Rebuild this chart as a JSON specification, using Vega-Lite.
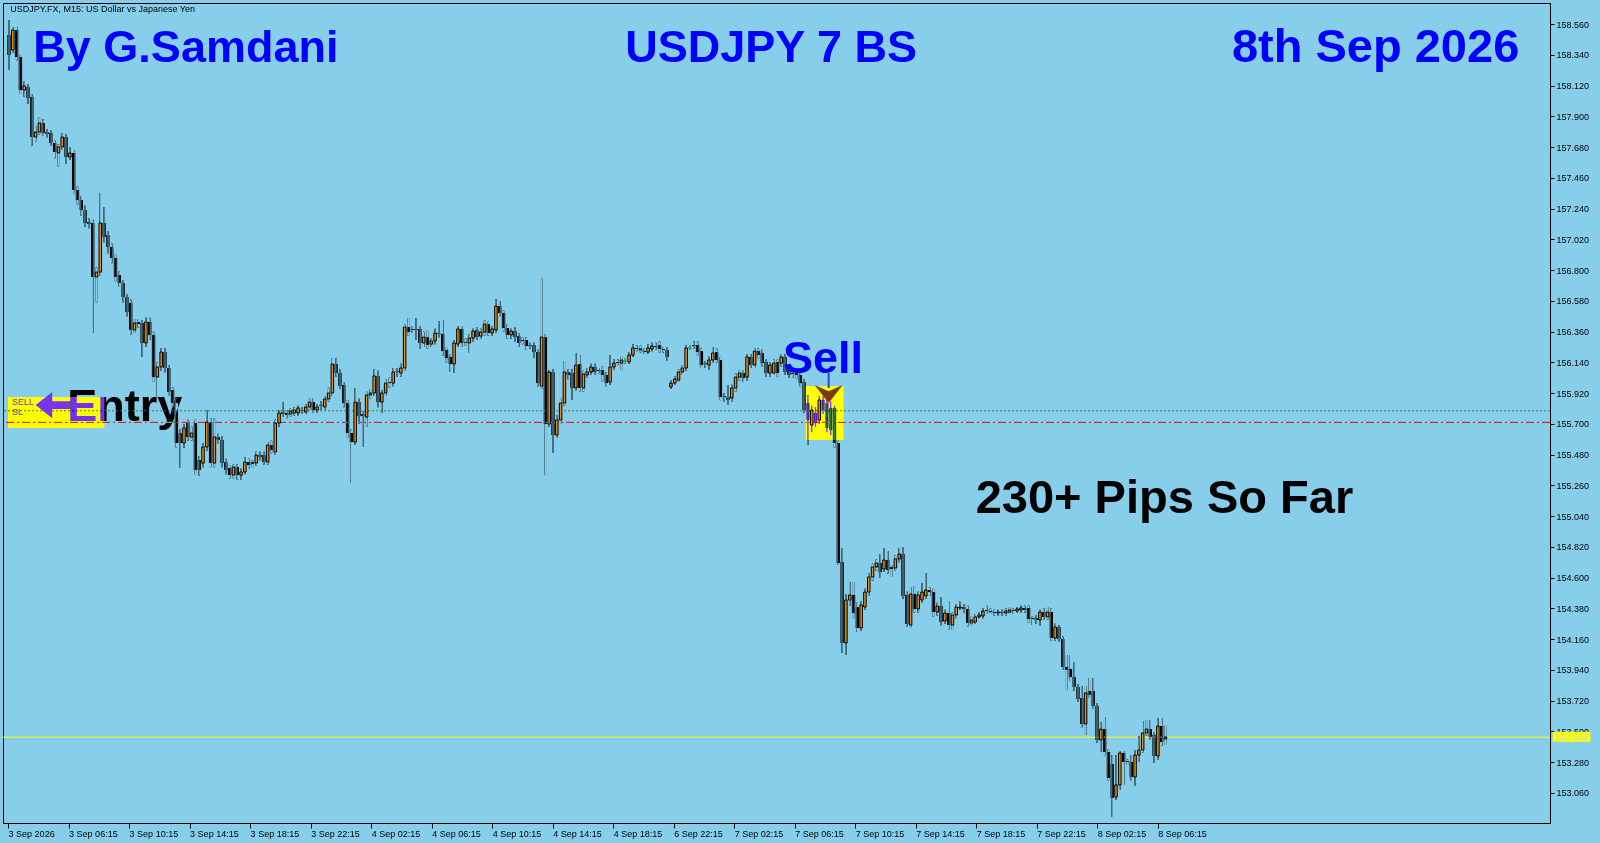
{
"$schema":"https://vega.github.io/schema/vega-lite/v6.json",
"width":1547,"height":820,
"autosize":{"type":"none"},
"padding":{"left":3,"top":3,"right":50,"bottom":20},
"background":"#87CEEB",
"config":{"view":{"stroke":"#000","strokeWidth":1},"axis":{"grid":false,"labelFont":"Liberation Sans","labelFontSize":9,"labelColor":"#000","tickColor":"#000","domainColor":"#000","titleColor":"transparent","titleFontSize":1}},
"datasets":{"bars":[
{"i":0,"o":158.482,"h":158.589,"l":158.231,"c":158.339},
{"i":1,"o":158.374,"h":158.540,"l":158.355,"c":158.517},
{"i":2,"o":158.517,"h":158.540,"l":158.300,"c":158.324},
{"i":3,"o":158.324,"h":158.340,"l":158.060,"c":158.088},
{"i":4,"o":158.088,"h":158.150,"l":158.040,"c":158.117},
{"i":5,"o":158.110,"h":158.130,"l":157.990,"c":158.031},
{"i":6,"o":158.038,"h":158.060,"l":157.690,"c":157.752},
{"i":7,"o":157.752,"h":157.830,"l":157.720,"c":157.788},
{"i":8,"o":157.788,"h":157.890,"l":157.770,"c":157.852},
{"i":9,"o":157.852,"h":157.880,"l":157.760,"c":157.781},
{"i":10,"o":157.788,"h":157.810,"l":157.750,"c":157.774},
{"i":11,"o":157.781,"h":157.800,"l":157.690,"c":157.709},
{"i":12,"o":157.709,"h":157.730,"l":157.600,"c":157.645},
{"i":13,"o":157.638,"h":157.700,"l":157.540,"c":157.681},
{"i":14,"o":157.681,"h":157.780,"l":157.660,"c":157.752},
{"i":15,"o":157.752,"h":157.770,"l":157.560,"c":157.609},
{"i":16,"o":157.609,"h":157.680,"l":157.590,"c":157.638},
{"i":17,"o":157.638,"h":157.660,"l":157.350,"c":157.373},
{"i":18,"o":157.373,"h":157.400,"l":157.270,"c":157.301},
{"i":19,"o":157.301,"h":157.330,"l":157.190,"c":157.230},
{"i":20,"o":157.230,"h":157.260,"l":157.110,"c":157.137},
{"i":21,"o":157.144,"h":157.170,"l":157.100,"c":157.130},
{"i":22,"o":157.137,"h":157.160,"l":156.350,"c":156.751},
{"i":23,"o":156.751,"h":156.820,"l":156.570,"c":156.786},
{"i":24,"o":156.786,"h":157.351,"l":156.760,"c":157.137},
{"i":25,"o":157.137,"h":157.251,"l":157.000,"c":157.037},
{"i":26,"o":157.051,"h":157.080,"l":156.920,"c":156.965},
{"i":27,"o":156.965,"h":156.990,"l":156.850,"c":156.887},
{"i":28,"o":156.887,"h":156.910,"l":156.720,"c":156.751},
{"i":29,"o":156.765,"h":156.790,"l":156.680,"c":156.708},
{"i":30,"o":156.708,"h":156.730,"l":156.570,"c":156.608},
{"i":31,"o":156.608,"h":156.630,"l":156.470,"c":156.500},
{"i":32,"o":156.565,"h":156.590,"l":156.340,"c":156.372},
{"i":33,"o":156.372,"h":156.450,"l":156.350,"c":156.422},
{"i":34,"o":156.429,"h":156.450,"l":156.390,"c":156.414},
{"i":35,"o":156.422,"h":156.440,"l":156.180,"c":156.279},
{"i":36,"o":156.279,"h":156.460,"l":156.250,"c":156.429},
{"i":37,"o":156.429,"h":156.460,"l":156.300,"c":156.336},
{"i":38,"o":156.336,"h":156.360,"l":156.000,"c":156.035},
{"i":39,"o":156.035,"h":156.140,"l":155.885,"c":156.107},
{"i":40,"o":156.107,"h":156.240,"l":156.080,"c":156.214},
{"i":41,"o":156.214,"h":156.240,"l":156.070,"c":156.100},
{"i":42,"o":156.100,"h":156.120,"l":155.900,"c":155.928},
{"i":43,"o":155.942,"h":155.960,"l":155.820,"c":155.849},
{"i":44,"o":155.849,"h":155.880,"l":155.530,"c":155.563},
{"i":45,"o":155.635,"h":155.660,"l":155.384,"c":155.563},
{"i":46,"o":155.563,"h":155.700,"l":155.530,"c":155.671},
{"i":47,"o":155.706,"h":155.730,"l":155.580,"c":155.606},
{"i":48,"o":155.606,"h":155.680,"l":155.580,"c":155.635},
{"i":49,"o":155.706,"h":155.730,"l":155.340,"c":155.370},
{"i":50,"o":155.442,"h":155.470,"l":155.330,"c":155.370},
{"i":51,"o":155.420,"h":155.560,"l":155.390,"c":155.535},
{"i":52,"o":155.535,"h":155.799,"l":155.510,"c":155.713},
{"i":53,"o":155.713,"h":155.740,"l":155.390,"c":155.420},
{"i":54,"o":155.420,"h":155.740,"l":155.390,"c":155.606},
{"i":55,"o":155.606,"h":155.630,"l":155.560,"c":155.585},
{"i":56,"o":155.585,"h":155.610,"l":155.390,"c":155.420},
{"i":57,"o":155.427,"h":155.450,"l":155.340,"c":155.370},
{"i":58,"o":155.384,"h":155.400,"l":155.310,"c":155.334},
{"i":59,"o":155.334,"h":155.410,"l":155.310,"c":155.392},
{"i":60,"o":155.392,"h":155.410,"l":155.300,"c":155.334},
{"i":61,"o":155.334,"h":155.380,"l":155.299,"c":155.356},
{"i":62,"o":155.356,"h":155.460,"l":155.340,"c":155.427},
{"i":63,"o":155.427,"h":155.450,"l":155.380,"c":155.406},
{"i":64,"o":155.427,"h":155.440,"l":155.390,"c":155.413},
{"i":65,"o":155.420,"h":155.500,"l":155.400,"c":155.477},
{"i":66,"o":155.477,"h":155.500,"l":155.440,"c":155.463},
{"i":67,"o":155.477,"h":155.500,"l":155.410,"c":155.427},
{"i":68,"o":155.427,"h":155.570,"l":155.410,"c":155.549},
{"i":69,"o":155.549,"h":155.580,"l":155.490,"c":155.513},
{"i":70,"o":155.499,"h":155.730,"l":155.480,"c":155.706},
{"i":71,"o":155.706,"h":155.800,"l":155.680,"c":155.778},
{"i":72,"o":155.785,"h":155.856,"l":155.750,"c":155.771},
{"i":73,"o":155.778,"h":155.800,"l":155.740,"c":155.764},
{"i":74,"o":155.771,"h":155.810,"l":155.750,"c":155.792},
{"i":75,"o":155.778,"h":155.820,"l":155.760,"c":155.799},
{"i":76,"o":155.778,"h":155.830,"l":155.760,"c":155.814},
{"i":77,"o":155.799,"h":155.820,"l":155.770,"c":155.792},
{"i":78,"o":155.785,"h":155.840,"l":155.770,"c":155.821},
{"i":79,"o":155.821,"h":155.880,"l":155.800,"c":155.856},
{"i":80,"o":155.856,"h":155.885,"l":155.780,"c":155.799},
{"i":81,"o":155.799,"h":155.840,"l":155.780,"c":155.821},
{"i":82,"o":155.835,"h":155.860,"l":155.800,"c":155.828},
{"i":83,"o":155.821,"h":155.900,"l":155.800,"c":155.878},
{"i":84,"o":155.878,"h":155.960,"l":155.860,"c":155.921},
{"i":85,"o":155.921,"h":156.171,"l":155.900,"c":156.128},
{"i":86,"o":156.128,"h":156.170,"l":156.040,"c":156.064},
{"i":87,"o":156.064,"h":156.090,"l":155.950,"c":155.971},
{"i":88,"o":155.978,"h":156.000,"l":155.820,"c":155.849},
{"i":89,"o":155.849,"h":155.870,"l":155.600,"c":155.635},
{"i":90,"o":155.635,"h":155.660,"l":155.277,"c":155.570},
{"i":91,"o":155.570,"h":155.957,"l":155.550,"c":155.856},
{"i":92,"o":155.856,"h":155.880,"l":155.700,"c":155.756},
{"i":93,"o":155.771,"h":155.790,"l":155.535,"c":155.756},
{"i":94,"o":155.749,"h":155.930,"l":155.680,"c":155.907},
{"i":95,"o":155.907,"h":155.950,"l":155.880,"c":155.921},
{"i":96,"o":155.921,"h":156.090,"l":155.900,"c":156.043},
{"i":97,"o":156.043,"h":156.080,"l":155.820,"c":155.856},
{"i":98,"o":155.856,"h":155.940,"l":155.778,"c":155.921},
{"i":99,"o":155.921,"h":156.020,"l":155.900,"c":155.992},
{"i":100,"o":155.999,"h":156.030,"l":155.960,"c":155.992},
{"i":101,"o":155.992,"h":156.100,"l":155.970,"c":156.071},
{"i":102,"o":156.078,"h":156.100,"l":156.040,"c":156.071},
{"i":103,"o":156.064,"h":156.130,"l":156.040,"c":156.100},
{"i":104,"o":156.100,"h":156.410,"l":156.080,"c":156.393},
{"i":105,"o":156.393,"h":156.457,"l":156.330,"c":156.357},
{"i":106,"o":156.379,"h":156.400,"l":156.350,"c":156.372},
{"i":107,"o":156.379,"h":156.457,"l":156.300,"c":156.372},
{"i":108,"o":156.379,"h":156.400,"l":156.240,"c":156.279},
{"i":109,"o":156.279,"h":156.360,"l":156.250,"c":156.321},
{"i":110,"o":156.321,"h":156.372,"l":156.240,"c":156.264},
{"i":111,"o":156.271,"h":156.310,"l":156.250,"c":156.293},
{"i":112,"o":156.293,"h":156.380,"l":156.270,"c":156.350},
{"i":113,"o":156.350,"h":156.436,"l":156.320,"c":156.343},
{"i":114,"o":156.343,"h":156.443,"l":156.190,"c":156.221},
{"i":115,"o":156.229,"h":156.250,"l":156.140,"c":156.171},
{"i":116,"o":156.179,"h":156.200,"l":156.071,"c":156.128},
{"i":117,"o":156.128,"h":156.300,"l":156.064,"c":156.279},
{"i":118,"o":156.271,"h":156.400,"l":156.250,"c":156.379},
{"i":119,"o":156.379,"h":156.400,"l":156.250,"c":156.279},
{"i":120,"o":156.286,"h":156.310,"l":156.260,"c":156.279},
{"i":121,"o":156.279,"h":156.340,"l":156.207,"c":156.314},
{"i":122,"o":156.314,"h":156.380,"l":156.290,"c":156.364},
{"i":123,"o":156.372,"h":156.390,"l":156.300,"c":156.321},
{"i":124,"o":156.328,"h":156.380,"l":156.310,"c":156.357},
{"i":125,"o":156.357,"h":156.440,"l":156.330,"c":156.414},
{"i":126,"o":156.414,"h":156.430,"l":156.330,"c":156.350},
{"i":127,"o":156.350,"h":156.400,"l":156.330,"c":156.379},
{"i":128,"o":156.372,"h":156.593,"l":156.350,"c":156.543},
{"i":129,"o":156.543,"h":156.580,"l":156.470,"c":156.493},
{"i":130,"o":156.493,"h":156.510,"l":156.360,"c":156.386},
{"i":131,"o":156.386,"h":156.410,"l":156.310,"c":156.336},
{"i":132,"o":156.336,"h":156.380,"l":156.310,"c":156.364},
{"i":133,"o":156.364,"h":156.390,"l":156.290,"c":156.321},
{"i":134,"o":156.328,"h":156.350,"l":156.250,"c":156.279},
{"i":135,"o":156.300,"h":156.320,"l":156.270,"c":156.293},
{"i":136,"o":156.300,"h":156.320,"l":156.230,"c":156.257},
{"i":137,"o":156.264,"h":156.280,"l":156.240,"c":156.257},
{"i":138,"o":156.264,"h":156.280,"l":156.171,"c":156.214},
{"i":139,"o":156.214,"h":156.230,"l":155.970,"c":155.992},
{"i":140,"o":155.971,"h":156.743,"l":155.950,"c":156.321},
{"i":141,"o":156.321,"h":156.340,"l":155.334,"c":155.699},
{"i":142,"o":155.699,"h":156.085,"l":155.680,"c":156.071},
{"i":143,"o":156.071,"h":156.090,"l":155.492,"c":155.620},
{"i":144,"o":155.620,"h":155.760,"l":155.600,"c":155.728},
{"i":145,"o":155.728,"h":155.880,"l":155.700,"c":155.849},
{"i":146,"o":155.849,"h":156.150,"l":155.830,"c":156.071},
{"i":147,"o":156.071,"h":156.090,"l":156.020,"c":156.050},
{"i":148,"o":156.064,"h":156.090,"l":155.871,"c":155.957},
{"i":149,"o":155.957,"h":156.207,"l":155.940,"c":156.121},
{"i":150,"o":156.128,"h":156.193,"l":155.930,"c":155.957},
{"i":151,"o":155.957,"h":156.080,"l":155.930,"c":156.057},
{"i":152,"o":156.050,"h":156.100,"l":156.030,"c":156.071},
{"i":153,"o":156.071,"h":156.130,"l":156.050,"c":156.107},
{"i":154,"o":156.107,"h":156.130,"l":156.050,"c":156.071},
{"i":155,"o":156.085,"h":156.100,"l":156.060,"c":156.078},
{"i":156,"o":156.085,"h":156.110,"l":156.000,"c":156.050},
{"i":157,"o":156.050,"h":156.070,"l":155.970,"c":155.992},
{"i":158,"o":155.999,"h":156.193,"l":155.980,"c":156.107},
{"i":159,"o":156.107,"h":156.160,"l":156.090,"c":156.135},
{"i":160,"o":156.143,"h":156.160,"l":156.120,"c":156.135},
{"i":161,"o":156.135,"h":156.180,"l":156.085,"c":156.157},
{"i":162,"o":156.150,"h":156.170,"l":156.130,"c":156.150},
{"i":163,"o":156.143,"h":156.210,"l":156.130,"c":156.193},
{"i":164,"o":156.193,"h":156.270,"l":156.180,"c":156.243},
{"i":165,"o":156.243,"h":156.260,"l":156.220,"c":156.236},
{"i":166,"o":156.229,"h":156.260,"l":156.210,"c":156.236},
{"i":167,"o":156.221,"h":156.240,"l":156.200,"c":156.214},
{"i":168,"o":156.214,"h":156.270,"l":156.200,"c":156.243},
{"i":169,"o":156.236,"h":156.280,"l":156.220,"c":156.257},
{"i":170,"o":156.257,"h":156.280,"l":156.230,"c":156.250},
{"i":171,"o":156.264,"h":156.290,"l":156.210,"c":156.236},
{"i":172,"o":156.236,"h":156.250,"l":156.210,"c":156.229},
{"i":173,"o":156.229,"h":156.250,"l":156.150,"c":156.179},
{"i":174,"o":155.964,"h":156.010,"l":155.950,"c":155.992},
{"i":175,"o":155.992,"h":156.040,"l":155.980,"c":156.021},
{"i":176,"o":156.014,"h":156.090,"l":156.000,"c":156.071},
{"i":177,"o":156.071,"h":156.120,"l":156.050,"c":156.100},
{"i":178,"o":156.100,"h":156.260,"l":156.080,"c":156.243},
{"i":179,"o":156.243,"h":156.260,"l":156.230,"c":156.243},
{"i":180,"o":156.264,"h":156.290,"l":156.240,"c":156.257},
{"i":181,"o":156.264,"h":156.290,"l":156.190,"c":156.214},
{"i":182,"o":156.221,"h":156.240,"l":156.100,"c":156.121},
{"i":183,"o":156.135,"h":156.150,"l":156.100,"c":156.128},
{"i":184,"o":156.121,"h":156.180,"l":156.085,"c":156.157},
{"i":185,"o":156.157,"h":156.250,"l":156.140,"c":156.207},
{"i":186,"o":156.214,"h":156.240,"l":156.140,"c":156.157},
{"i":187,"o":156.157,"h":156.180,"l":155.870,"c":155.892},
{"i":188,"o":155.899,"h":155.920,"l":155.860,"c":155.892},
{"i":189,"o":155.892,"h":155.978,"l":155.835,"c":155.871},
{"i":190,"o":155.885,"h":155.980,"l":155.860,"c":155.957},
{"i":191,"o":155.957,"h":156.060,"l":155.930,"c":156.035},
{"i":192,"o":156.035,"h":156.080,"l":156.010,"c":156.064},
{"i":193,"o":156.064,"h":156.080,"l":156.000,"c":156.028},
{"i":194,"o":156.035,"h":156.200,"l":156.010,"c":156.179},
{"i":195,"o":156.179,"h":156.200,"l":156.100,"c":156.121},
{"i":196,"o":156.121,"h":156.240,"l":156.100,"c":156.221},
{"i":197,"o":156.221,"h":156.240,"l":156.170,"c":156.193},
{"i":198,"o":156.207,"h":156.230,"l":156.110,"c":156.135},
{"i":199,"o":156.143,"h":156.160,"l":156.040,"c":156.064},
{"i":200,"o":156.064,"h":156.140,"l":156.040,"c":156.121},
{"i":201,"o":156.064,"h":156.160,"l":156.050,"c":156.135},
{"i":202,"o":156.143,"h":156.160,"l":156.040,"c":156.064},
{"i":203,"o":156.135,"h":156.200,"l":156.110,"c":156.179},
{"i":204,"o":156.179,"h":156.200,"l":156.050,"c":156.071},
{"i":205,"o":156.085,"h":156.100,"l":156.030,"c":156.050},
{"i":206,"o":156.064,"h":156.080,"l":156.030,"c":156.057},
{"i":207,"o":156.064,"h":156.080,"l":156.020,"c":156.050},
{"i":208,"o":156.050,"h":156.070,"l":155.970,"c":155.992},
{"i":209,"o":155.999,"h":156.020,"l":155.780,"c":155.799},
{"i":210,"o":155.849,"h":155.907,"l":155.549,"c":155.728},
{"i":211,"o":155.692,"h":155.830,"l":155.640,"c":155.799},
{"i":212,"o":155.778,"h":155.820,"l":155.680,"c":155.706},
{"i":213,"o":155.728,"h":155.900,"l":155.700,"c":155.871},
{"i":214,"o":155.871,"h":155.900,"l":155.770,"c":155.799},
{"i":215,"o":155.849,"h":155.880,"l":155.640,"c":155.671},
{"i":216,"o":155.814,"h":155.860,"l":155.620,"c":155.656},
{"i":217,"o":155.814,"h":155.830,"l":155.530,"c":155.563},
{"i":218,"o":155.563,"h":155.580,"l":154.690,"c":154.705},
{"i":219,"o":154.712,"h":154.812,"l":154.061,"c":154.133},
{"i":220,"o":154.133,"h":154.480,"l":154.047,"c":154.440},
{"i":221,"o":154.440,"h":154.569,"l":154.400,"c":154.476},
{"i":222,"o":154.476,"h":154.569,"l":154.310,"c":154.347},
{"i":223,"o":154.390,"h":154.420,"l":154.211,"c":154.240},
{"i":224,"o":154.240,"h":154.430,"l":154.220,"c":154.404},
{"i":225,"o":154.390,"h":154.520,"l":154.370,"c":154.497},
{"i":226,"o":154.497,"h":154.630,"l":154.470,"c":154.605},
{"i":227,"o":154.605,"h":154.700,"l":154.580,"c":154.676},
{"i":228,"o":154.676,"h":154.730,"l":154.650,"c":154.705},
{"i":229,"o":154.705,"h":154.770,"l":154.598,"c":154.640},
{"i":230,"o":154.662,"h":154.812,"l":154.640,"c":154.726},
{"i":231,"o":154.726,"h":154.790,"l":154.630,"c":154.655},
{"i":232,"o":154.676,"h":154.690,"l":154.605,"c":154.662},
{"i":233,"o":154.669,"h":154.760,"l":154.650,"c":154.734},
{"i":234,"o":154.734,"h":154.812,"l":154.710,"c":154.769},
{"i":235,"o":154.769,"h":154.819,"l":154.450,"c":154.469},
{"i":236,"o":154.476,"h":154.500,"l":154.250,"c":154.269},
{"i":237,"o":154.261,"h":154.533,"l":154.240,"c":154.483},
{"i":238,"o":154.483,"h":154.540,"l":154.350,"c":154.376},
{"i":239,"o":154.376,"h":154.500,"l":154.350,"c":154.476},
{"i":240,"o":154.440,"h":154.562,"l":154.420,"c":154.497},
{"i":241,"o":154.469,"h":154.633,"l":154.450,"c":154.512},
{"i":242,"o":154.512,"h":154.530,"l":154.470,"c":154.497},
{"i":243,"o":154.497,"h":154.520,"l":154.320,"c":154.354},
{"i":244,"o":154.354,"h":154.420,"l":154.330,"c":154.397},
{"i":245,"o":154.397,"h":154.462,"l":154.260,"c":154.283},
{"i":246,"o":154.290,"h":154.370,"l":154.270,"c":154.347},
{"i":247,"o":154.347,"h":154.433,"l":154.230,"c":154.261},
{"i":248,"o":154.261,"h":154.350,"l":154.226,"c":154.333},
{"i":249,"o":154.333,"h":154.410,"l":154.310,"c":154.390},
{"i":250,"o":154.383,"h":154.433,"l":154.370,"c":154.390},
{"i":251,"o":154.390,"h":154.410,"l":154.350,"c":154.376},
{"i":252,"o":154.376,"h":154.400,"l":154.250,"c":154.276},
{"i":253,"o":154.276,"h":154.320,"l":154.260,"c":154.297},
{"i":254,"o":154.283,"h":154.340,"l":154.270,"c":154.319},
{"i":255,"o":154.319,"h":154.350,"l":154.310,"c":154.333},
{"i":256,"o":154.326,"h":154.380,"l":154.310,"c":154.362},
{"i":257,"o":154.369,"h":154.400,"l":154.345,"c":154.362},
{"i":258,"o":154.362,"h":154.380,"l":154.340,"c":154.354},
{"i":259,"o":154.354,"h":154.370,"l":154.330,"c":154.347},
{"i":260,"o":154.347,"h":154.370,"l":154.330,"c":154.354},
{"i":261,"o":154.354,"h":154.370,"l":154.330,"c":154.347},
{"i":262,"o":154.347,"h":154.380,"l":154.330,"c":154.362},
{"i":263,"o":154.354,"h":154.390,"l":154.340,"c":154.369},
{"i":264,"o":154.369,"h":154.380,"l":154.340,"c":154.362},
{"i":265,"o":154.362,"h":154.390,"l":154.350,"c":154.376},
{"i":266,"o":154.369,"h":154.400,"l":154.350,"c":154.383},
{"i":267,"o":154.383,"h":154.400,"l":154.350,"c":154.369},
{"i":268,"o":154.383,"h":154.400,"l":154.280,"c":154.304},
{"i":269,"o":154.312,"h":154.320,"l":154.261,"c":154.304},
{"i":270,"o":154.312,"h":154.330,"l":154.270,"c":154.297},
{"i":271,"o":154.297,"h":154.370,"l":154.254,"c":154.354},
{"i":272,"o":154.354,"h":154.380,"l":154.300,"c":154.319},
{"i":273,"o":154.319,"h":154.390,"l":154.300,"c":154.354},
{"i":274,"o":154.354,"h":154.380,"l":154.150,"c":154.168},
{"i":275,"o":154.168,"h":154.270,"l":154.150,"c":154.247},
{"i":276,"o":154.247,"h":154.260,"l":154.140,"c":154.161},
{"i":277,"o":154.161,"h":154.180,"l":153.940,"c":153.961},
{"i":278,"o":153.961,"h":154.047,"l":153.796,"c":153.941},
{"i":279,"o":153.947,"h":154.047,"l":153.860,"c":153.889},
{"i":280,"o":153.889,"h":153.996,"l":153.790,"c":153.818},
{"i":281,"o":153.818,"h":153.840,"l":153.710,"c":153.732},
{"i":282,"o":153.739,"h":153.825,"l":153.530,"c":153.553},
{"i":283,"o":153.553,"h":153.825,"l":153.475,"c":153.775},
{"i":284,"o":153.789,"h":153.882,"l":153.740,"c":153.761},
{"i":285,"o":153.789,"h":153.882,"l":153.660,"c":153.682},
{"i":286,"o":153.682,"h":153.700,"l":153.420,"c":153.439},
{"i":287,"o":153.439,"h":153.568,"l":153.353,"c":153.517},
{"i":288,"o":153.517,"h":153.603,"l":153.330,"c":153.353},
{"i":289,"o":153.353,"h":153.370,"l":153.150,"c":153.167},
{"i":290,"o":153.267,"h":153.331,"l":152.888,"c":153.024},
{"i":291,"o":153.031,"h":153.331,"l":153.010,"c":153.117},
{"i":292,"o":153.117,"h":153.360,"l":153.081,"c":153.346},
{"i":293,"o":153.346,"h":153.360,"l":153.117,"c":153.281},
{"i":294,"o":153.288,"h":153.300,"l":153.260,"c":153.281},
{"i":295,"o":153.281,"h":153.331,"l":153.150,"c":153.174},
{"i":296,"o":153.174,"h":153.367,"l":153.110,"c":153.331},
{"i":297,"o":153.331,"h":153.467,"l":153.281,"c":153.367},
{"i":298,"o":153.367,"h":153.575,"l":153.350,"c":153.489},
{"i":299,"o":153.489,"h":153.582,"l":153.470,"c":153.517},
{"i":300,"o":153.517,"h":153.582,"l":153.440,"c":153.460},
{"i":301,"o":153.475,"h":153.490,"l":153.274,"c":153.324},
{"i":302,"o":153.324,"h":153.596,"l":153.300,"c":153.539},
{"i":303,"o":153.539,"h":153.596,"l":153.400,"c":153.424},
{"i":304,"o":153.446,"h":153.546,"l":153.403,"c":153.460}
]},
"layer":[
{"data":{"name":"bars"},"mark":{"type":"rule","strokeWidth":1.3,"blend":"difference"},
 "encoding":{"x":{"field":"i","type":"quantitative","scale":{"domain":[-0.26,403.76],"nice":false,"zero":false},
   "axis":{"orient":"bottom","title":null,"values":[-0.235,15.67,31.575,47.48,63.385,79.29,95.195,111.1,127.005,142.91,158.815,174.72,190.625,206.53,222.435,238.34,254.245,270.15,286.055,301.96],"tickCount":40,
   "labelExpr":"['3 Sep 2026','3 Sep 06:15','3 Sep 10:15','3 Sep 14:15','3 Sep 18:15','3 Sep 22:15','4 Sep 02:15','4 Sep 06:15','4 Sep 10:15','4 Sep 14:15','4 Sep 18:15','6 Sep 22:15','7 Sep 02:15','7 Sep 06:15','7 Sep 10:15','7 Sep 14:15','7 Sep 18:15','7 Sep 22:15','8 Sep 02:15','8 Sep 06:15'][round((datum.value+0.235)/15.905)]",
   "labelAlign":"left","labelBaseline":"top","labelPadding":1,"tickSize":5,"labelOverlap":false,"labelFlush":false,"labelBound":false}},
  "y":{"field":"l","type":"quantitative","scale":{"domain":[152.845,158.711],"nice":false,"zero":false},
   "axis":{"orient":"right","title":null,"values":[153.06,153.28,153.5,153.72,153.94,154.16,154.38,154.6,154.82,155.04,155.26,155.48,155.7,155.92,156.14,156.36,156.58,156.8,157.02,157.24,157.46,157.68,157.9,158.12,158.34,158.56],"tickCount":40,"format":".3f","tickSize":4,"labelPadding":2,"labelOverlap":false,"labelFlush":false,"labelBaseline":"middle"}},
  "y2":{"field":"h"},
  "color":{"condition":{"test":"datum.o == datum.c","value":"#872EEB"},"value":"#87CEEB"}}},
{"data":{"values":[{"i":-0.26,"i2":25.07,"p":155.892,"p2":155.671},{"i":209.45,"i2":219.38,"p":155.971,"p2":155.585},{"i":405.8,"i2":415.7,"p":153.498,"p2":153.427}]},
 "mark":{"type":"rect","color":"#FFFF00"},
 "encoding":{"x":{"field":"i","type":"quantitative","scale":{"domain":[-0.26,403.76],"nice":false,"zero":false}},"x2":{"field":"i2"},
 "y":{"field":"p","type":"quantitative","scale":{"domain":[152.845,158.711],"nice":false,"zero":false}},"y2":{"field":"p2"}}},
{"data":{"values":[{"p":155.794}]},"mark":{"type":"rule","color":"#2E8B3E","strokeDash":[2,2],"strokeWidth":1},
 "encoding":{"y":{"field":"p","type":"quantitative","scale":{"domain":[152.845,158.711],"nice":false,"zero":false}}}},
{"data":{"values":[{"p":155.711}]},"mark":{"type":"rule","color":"#FF0000","strokeDash":[8,3,2,3],"strokeWidth":1},
 "encoding":{"y":{"field":"p","type":"quantitative","scale":{"domain":[152.845,158.711],"nice":false,"zero":false}}}},
{"data":{"values":[{"p":153.459}]},"mark":{"type":"rule","color":"#FFFF00","strokeWidth":1},
 "encoding":{"y":{"field":"p","type":"quantitative","scale":{"domain":[152.845,158.711],"nice":false,"zero":false}}}},
{"data":{"name":"bars"},"mark":{"type":"rule","strokeWidth":1.3,"blend":"difference"},
 "encoding":{"x":{"field":"i","type":"quantitative","scale":{"domain":[-0.26,403.76],"nice":false,"zero":false}},
  "y":{"field":"l","type":"quantitative","scale":{"domain":[152.845,158.711],"nice":false,"zero":false}},"y2":{"field":"h"},
  "color":{"condition":{"test":"datum.o == datum.c","value":"#872EEB"},"value":"#87CEEB"}}},
{"data":{"name":"bars"},"transform":[{"filter":"datum.c < datum.o"}],"mark":{"type":"bar","width":3.4,"color":"#87CEEB","blend":"difference"},
 "encoding":{"x":{"field":"i","type":"quantitative","scale":{"domain":[-0.26,403.76],"nice":false,"zero":false}},
  "y":{"field":"o","type":"quantitative","scale":{"domain":[152.845,158.711],"nice":false,"zero":false}},"y2":{"field":"c"}}},
{"data":{"name":"bars"},"transform":[{"filter":"datum.c > datum.o"}],"mark":{"type":"bar","width":2.5,"color":"#E8900C","stroke":"#000000","strokeWidth":1},
 "encoding":{"x":{"field":"i","type":"quantitative","scale":{"domain":[-0.26,403.76],"nice":false,"zero":false}},
  "y":{"field":"o","type":"quantitative","scale":{"domain":[152.845,158.711],"nice":false,"zero":false}},"y2":{"field":"c"}}},
{"data":{"name":"bars"},"transform":[{"filter":"datum.c == datum.o"}],"mark":{"type":"tick","orient":"horizontal","size":4,"thickness":1,"color":"#872EEB","blend":"difference"},
 "encoding":{"x":{"field":"i","type":"quantitative","scale":{"domain":[-0.26,403.76],"nice":false,"zero":false}},
  "y":{"field":"o","type":"quantitative","scale":{"domain":[152.845,158.711],"nice":false,"zero":false}}}},
{"data":{"values":[{"t":"153.459","i":406.5,"p":153.463}]},"mark":{"type":"text","font":"Liberation Sans","fontSize":9,"align":"left","baseline":"middle","color":"#C8E0A8"},
 "encoding":{"x":{"field":"i","type":"quantitative","scale":{"domain":[-0.26,403.76],"nice":false,"zero":false}},"y":{"field":"p","type":"quantitative","scale":{"domain":[152.845,158.711],"nice":false,"zero":false}},"text":{"field":"t"}}},
{"data":{"values":[{"t":"USDJPY.FX, M15:  US Dollar vs Japanese Yen","i":0.3,"p":158.646}]},"mark":{"type":"text","font":"Liberation Sans","fontSize":9,"align":"left","baseline":"alphabetic","color":"#000"},
 "encoding":{"x":{"field":"i","type":"quantitative","scale":{"domain":[-0.26,403.76],"nice":false,"zero":false}},"y":{"field":"p","type":"quantitative","scale":{"domain":[152.845,158.711],"nice":false,"zero":false}},"text":{"field":"t"}}},
{"data":{"values":[{"t":"By G.Samdani","i":6.4,"p":158.288}]},"mark":{"type":"text","font":"Liberation Sans","fontWeight":"bold","fontSize":45,"align":"left","baseline":"alphabetic","color":"#0000FF"},
 "encoding":{"x":{"field":"i","type":"quantitative","scale":{"domain":[-0.26,403.76],"nice":false,"zero":false}},"y":{"field":"p","type":"quantitative","scale":{"domain":[152.845,158.711],"nice":false,"zero":false}},"text":{"field":"t"}}},
{"data":{"values":[{"t":"USDJPY 7 BS","i":200.31,"p":158.288}]},"mark":{"type":"text","font":"Liberation Sans","fontWeight":"bold","fontSize":45,"align":"center","baseline":"alphabetic","color":"#0000FF"},
 "encoding":{"x":{"field":"i","type":"quantitative","scale":{"domain":[-0.26,403.76],"nice":false,"zero":false}},"y":{"field":"p","type":"quantitative","scale":{"domain":[152.845,158.711],"nice":false,"zero":false}},"text":{"field":"t"}}},
{"data":{"values":[{"t":"8th Sep 2026","i":397.0,"p":158.288}]},"mark":{"type":"text","font":"Liberation Sans","fontWeight":"bold","fontSize":47,"align":"right","baseline":"alphabetic","color":"#0000FF"},
 "encoding":{"x":{"field":"i","type":"quantitative","scale":{"domain":[-0.26,403.76],"nice":false,"zero":false}},"y":{"field":"p","type":"quantitative","scale":{"domain":[152.845,158.711],"nice":false,"zero":false}},"text":{"field":"t"}}},
{"data":{"values":[{"t":"Sell","i":203.45,"p":156.064}]},"mark":{"type":"text","font":"Liberation Sans","fontWeight":"bold","fontSize":45,"align":"left","baseline":"alphabetic","color":"#0000FF"},
 "encoding":{"x":{"field":"i","type":"quantitative","scale":{"domain":[-0.26,403.76],"nice":false,"zero":false}},"y":{"field":"p","type":"quantitative","scale":{"domain":[152.845,158.711],"nice":false,"zero":false}},"text":{"field":"t"}}},
{"data":{"values":[{"i":215.46,"p":156.064,"p2":155.957}]},"mark":{"type":"rule","color":"#2244EE","strokeWidth":2},
 "encoding":{"x":{"field":"i","type":"quantitative","scale":{"domain":[-0.26,403.76],"nice":false,"zero":false}},"y":{"field":"p","type":"quantitative","scale":{"domain":[152.845,158.711],"nice":false,"zero":false}},"y2":{"field":"p2"}}},
{"data":{"values":[{"i":215.46,"p":155.914}]},"mark":{"type":"point","shape":"M-1,-0.65L0,-0.2L1,-0.65L0,0.65Z","filled":true,"size":784,"color":"#7A3A1C","opacity":1,"strokeWidth":0},
 "encoding":{"x":{"field":"i","type":"quantitative","scale":{"domain":[-0.26,403.76],"nice":false,"zero":false}},"y":{"field":"p","type":"quantitative","scale":{"domain":[152.845,158.711],"nice":false,"zero":false}}}},
{"data":{"values":[{"t":"230+ Pips So Far","i":254.11,"p":155.063}]},"mark":{"type":"text","font":"Liberation Sans","fontWeight":"bold","fontSize":47,"align":"left","baseline":"alphabetic","color":"#000000"},
 "encoding":{"x":{"field":"i","type":"quantitative","scale":{"domain":[-0.26,403.76],"nice":false,"zero":false}},"y":{"field":"p","type":"quantitative","scale":{"domain":[152.845,158.711],"nice":false,"zero":false}},"text":{"field":"t"}}},
{"data":{"values":[{"t":"SELL","i":0.78,"p":155.835},{"t":"SL","i":0.78,"p":155.764}]},"mark":{"type":"text","font":"Liberation Sans","fontSize":9,"align":"left","baseline":"alphabetic","color":"#87CEEB","blend":"difference"},
 "encoding":{"x":{"field":"i","type":"quantitative","scale":{"domain":[-0.26,403.76],"nice":false,"zero":false}},"y":{"field":"p","type":"quantitative","scale":{"domain":[152.845,158.711],"nice":false,"zero":false}},"text":{"field":"t"}}},
{"data":{"values":[{"i":11.6,"p":155.835}]},"mark":{"type":"point","shape":"M-1,0L-0.05,-0.75L-0.05,-0.22L1,-0.22L1,0.22L-0.05,0.22L-0.05,0.75Z","filled":true,"size":1225,"color":"#7A33F0","opacity":1,"strokeWidth":0},
 "encoding":{"x":{"field":"i","type":"quantitative","scale":{"domain":[-0.26,403.76],"nice":false,"zero":false}},"y":{"field":"p","type":"quantitative","scale":{"domain":[152.845,158.711],"nice":false,"zero":false}}}},
{"data":{"values":[{"t":"Entry","i":15.3,"p":155.721}]},"mark":{"type":"text","font":"Liberation Sans","fontWeight":"bold","fontSize":45,"align":"left","baseline":"alphabetic","color":"#87CEEB","blend":"difference"},
 "encoding":{"x":{"field":"i","type":"quantitative","scale":{"domain":[-0.26,403.76],"nice":false,"zero":false}},"y":{"field":"p","type":"quantitative","scale":{"domain":[152.845,158.711],"nice":false,"zero":false}},"text":{"field":"t"}}}
]
}
